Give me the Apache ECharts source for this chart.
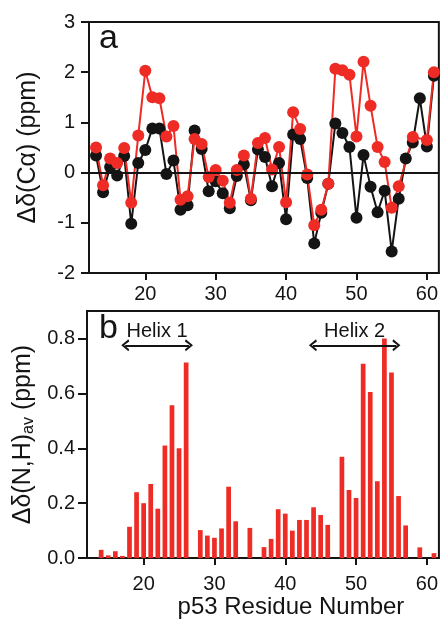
<!DOCTYPE html>
<html>
<head>
<meta charset="utf-8">
<script src="https://cdn.jsdelivr.net/npm/echarts@6/dist/echarts.min.js"></script>
<style>
  html, body { margin: 0; padding: 0; background: #fff; }
  #main { width: 441px; height: 620px; }
</style>
</head>
<body>
<div id="main"></div>
<script>
var chart = echarts.init(document.getElementById('main'));

// panel a: residues and chemical shift differences
var residues = [13, 14, 15, 16, 17, 18, 19, 20, 21, 22, 23, 24, 25, 26, 27, 28, 29, 30, 31, 32, 33, 34, 35, 36, 37,
  38, 39, 40, 41, 42, 43, 44, 45, 46, 47, 48, 49, 50, 51, 52, 53, 54, 55, 56, 57, 58, 59, 60, 61];
var blackShift = [0.34, -0.39, 0.11, -0.06, 0.33, -1.02, 0.19, 0.45, 0.88, 0.88, -0.03, 0.24, -0.74, -0.65, 0.84,
  0.47, -0.37, -0.17, -0.41, -0.71, -0.07, 0.16, -0.55, 0.46, 0.31, -0.27, 0.19, -0.93, 0.76, 0.67, -0.11, -1.41,
  -0.8, -0.22, 0.98, 0.79, 0.51, -0.9, 0.35, -0.28, -0.79, -0.36, -1.57, -0.52, 0.28, 0.6, 1.48, 0.52, 1.93];
var redShift = [0.50, -0.25, 0.28, 0.19, 0.49, -0.60, 0.74, 2.03, 1.50, 1.48, 0.72, 0.93, -0.54, -0.47, 0.67, 0.57,
  -0.09, 0.05, -0.16, -0.60, 0.05, 0.34, -0.52, 0.59, 0.69, 0.06, 0.51, -0.59, 1.20, 0.87, -0.04, -1.05, -0.74,
  -0.22, 2.07, 2.04, 1.95, 0.72, 2.21, 1.33, 0.51, 0.21, -0.70, -0.27, null, 0.71, null, 0.65, 2.00];

// panel b: average amide shift per residue
var barResidues = [14, 15, 16, 17, 18, 19, 20, 21, 22, 23, 24, 25, 26, 27, 28, 29, 30, 31, 32, 33, 34, 35, 36, 37,
  38, 39, 40, 41, 42, 43, 44, 45, 46, 47, 48, 49, 50, 51, 52, 53, 54, 55, 56, 57, 58, 59, 60, 61];
var barValues = [0.03, 0.01, 0.025, 0.008, 0.114, 0.24, 0.2, 0.27, 0.18, 0.41, 0.557, 0.4, 0.712, null, 0.102,
  0.082, 0.074, 0.108, 0.26, 0.134, null, 0.11, null, 0.04, 0.07, 0.178, 0.162, 0.1, 0.139, 0.139, 0.185, 0.157,
  0.121, null, 0.369, 0.248, 0.219, 0.708, 0.605, 0.28, 0.8, 0.676, 0.226, 0.119, null, 0.039, null, 0.018];

// helix annotations
var helixNames = ['Helix 1', 'Helix 2'];
var helixStart = [17.4, 43.9];
var helixEnd = [26.4, 55.7];
var helixLevel = 0.775;

var xTicks = [20, 30, 40, 50, 60];
var yTicksB = [0, 0.2, 0.4, 0.6, 0.8];

var ink = '#141414';
var red = '#ee2b24';
var font = 'Liberation Sans, Arial, sans-serif';
var chevron = 'path://M5,0 L10,9 L8.2,10 L5,3.6 L1.8,10 L0,9 Z';

var helixLines = helixNames.map(function (n, i) {
  return [{ name: n, coord: [helixStart[i], helixLevel] }, { coord: [helixEnd[i], helixLevel] }];
});

function xAxisFor(idx, margin) {
  return {
    gridIndex: idx,
    type: 'value',
    min: 12,
    max: 61.7,
    axisLine: { onZero: false, lineStyle: { color: ink, width: 2 } },
    axisTick: { customValues: xTicks, length: 7, lineStyle: { color: ink, width: 2 } },
    axisLabel: { customValues: xTicks, fontSize: 20, color: ink, margin: margin, fontFamily: font },
    splitLine: { show: false }
  };
}

var xA = xAxisFor(0, 11);
var xB = xAxisFor(1, 16);
xB.name = 'p53 Residue Number';
xB.nameLocation = 'middle';
xB.nameGap = 30;
xB.nameTextStyle = { fontSize: 24, color: ink, fontFamily: font, padding: [0, 0, 0, 56] };

option = {
  animation: false,
  textStyle: { fontFamily: font },
  grid: [
    { left: 89, right: 1, top: 22, height: 251, show: true, borderColor: ink, borderWidth: 2 },
    { left: 87, right: 2, top: 311, height: 253, show: true, borderColor: ink, borderWidth: 2 }
  ],
  graphic: [
    { type: 'text', left: 99, top: 22, style: { text: 'a', fontSize: 34, fill: ink, fontFamily: font } },
    { type: 'text', left: 99, top: 312, style: { text: 'b', fontSize: 34, fill: ink, fontFamily: font } }
  ],
  xAxis: [xA, xB],
  yAxis: [
    {
      gridIndex: 0,
      type: 'value',
      min: -2,
      max: 3,
      interval: 1,
      name: 'Δδ(Cα) (ppm)',
      nameLocation: 'middle',
      nameGap: 48,
      nameTextStyle: { fontSize: 25, color: ink, fontFamily: font },
      axisLine: { lineStyle: { color: ink, width: 2 } },
      axisTick: { length: 8, lineStyle: { color: ink, width: 2 } },
      axisLabel: { fontSize: 20, color: ink, margin: 14 },
      splitLine: { show: false }
    },
    {
      gridIndex: 1,
      type: 'value',
      min: 0,
      max: 0.9,
      name: '{a|Δδ(N,H)}{s|av}{a| (ppm)}',
      nameLocation: 'middle',
      nameGap: 46,
      nameTextStyle: {
        color: ink,
        rich: {
          a: { fontSize: 25, color: ink, fontFamily: font, verticalAlign: 'middle' },
          s: { fontSize: 16, color: ink, fontFamily: font, verticalAlign: 'bottom', padding: [11, 0, 0, 0] }
        }
      },
      axisLine: { lineStyle: { color: ink, width: 2 } },
      axisTick: { customValues: yTicksB, length: 9, lineStyle: { color: ink, width: 2 } },
      axisLabel: {
        customValues: yTicksB, fontSize: 20, color: ink, margin: 12,
        formatter: function (v) { return v.toFixed(1); }
      },
      splitLine: { show: false }
    }
  ],
  series: [
    {
      name: 'black',
      type: 'line',
      xAxisIndex: 0,
      yAxisIndex: 0,
      symbol: 'circle',
      symbolSize: 12,
      color: ink,
      lineStyle: { color: ink, width: 2 },
      data: residues.map(function (r, i) { return [r, blackShift[i]]; }),
      markLine: {
        silent: true,
        symbol: 'none',
        label: { show: false },
        lineStyle: { color: ink, width: 2, type: 'solid' },
        data: [{ yAxis: 0 }]
      }
    },
    {
      name: 'red',
      type: 'line',
      xAxisIndex: 0,
      yAxisIndex: 0,
      symbol: 'circle',
      symbolSize: 12,
      color: red,
      connectNulls: true,
      lineStyle: { color: red, width: 2 },
      data: residues.map(function (r, i) { return [r, redShift[i]]; })
    },
    {
      name: 'bars',
      type: 'bar',
      xAxisIndex: 1,
      yAxisIndex: 1,
      barWidth: 4.7,
      itemStyle: { color: red },
      data: barResidues.map(function (r, i) { return [r, barValues[i]]; }),
      markLine: {
        silent: true,
        symbol: [chevron, chevron],
        symbolSize: [12, 8],
        lineStyle: { color: ink, width: 2, type: 'solid' },
        label: {
          show: true, position: 'middle', distance: 4, formatter: '{b}',
          fontSize: 20, color: ink, fontFamily: font
        },
        data: helixLines
      }
    }
  ]
};

chart.setOption(option);
</script>
</body>
</html>
